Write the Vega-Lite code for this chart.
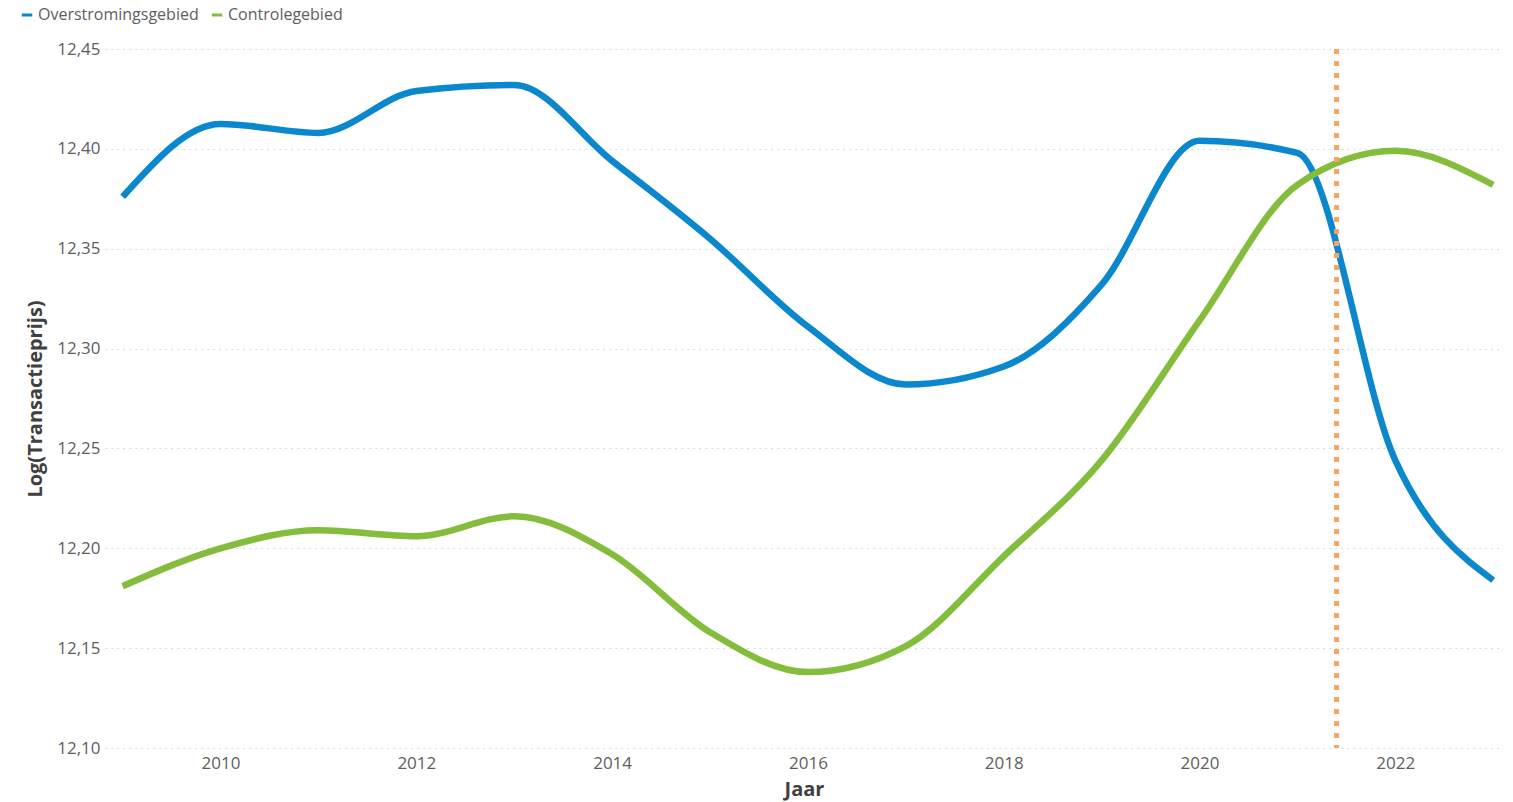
{
  "$schema": "https://vega.github.io/schema/vega-lite/v6.json",
  "autosize": {"type": "none"},
  "width": 1398,
  "height": 699,
  "padding": {"left": 105, "top": 49, "right": 10, "bottom": 54},
  "background": "white",
  "config": {
    "font": "Open Sans",
    "view": {"stroke": null}
  },
  "datasets": {
    "series": [
      {"Jaar": 2009, "Gebied": "Overstromingsgebied", "Waarde": 12.376},
      {"Jaar": 2010, "Gebied": "Overstromingsgebied", "Waarde": 12.4125},
      {"Jaar": 2011, "Gebied": "Overstromingsgebied", "Waarde": 12.408},
      {"Jaar": 2012, "Gebied": "Overstromingsgebied", "Waarde": 12.429},
      {"Jaar": 2013, "Gebied": "Overstromingsgebied", "Waarde": 12.432},
      {"Jaar": 2014, "Gebied": "Overstromingsgebied", "Waarde": 12.394},
      {"Jaar": 2015, "Gebied": "Overstromingsgebied", "Waarde": 12.355},
      {"Jaar": 2016, "Gebied": "Overstromingsgebied", "Waarde": 12.311},
      {"Jaar": 2017, "Gebied": "Overstromingsgebied", "Waarde": 12.282},
      {"Jaar": 2018, "Gebied": "Overstromingsgebied", "Waarde": 12.291},
      {"Jaar": 2019, "Gebied": "Overstromingsgebied", "Waarde": 12.332},
      {"Jaar": 2020, "Gebied": "Overstromingsgebied", "Waarde": 12.404},
      {"Jaar": 2021, "Gebied": "Overstromingsgebied", "Waarde": 12.398},
      {"Jaar": 2022, "Gebied": "Overstromingsgebied", "Waarde": 12.244},
      {"Jaar": 2023, "Gebied": "Overstromingsgebied", "Waarde": 12.184},
      {"Jaar": 2009, "Gebied": "Controlegebied", "Waarde": 12.181},
      {"Jaar": 2010, "Gebied": "Controlegebied", "Waarde": 12.200},
      {"Jaar": 2011, "Gebied": "Controlegebied", "Waarde": 12.209},
      {"Jaar": 2012, "Gebied": "Controlegebied", "Waarde": 12.206},
      {"Jaar": 2013, "Gebied": "Controlegebied", "Waarde": 12.216},
      {"Jaar": 2014, "Gebied": "Controlegebied", "Waarde": 12.197},
      {"Jaar": 2015, "Gebied": "Controlegebied", "Waarde": 12.158},
      {"Jaar": 2016, "Gebied": "Controlegebied", "Waarde": 12.138},
      {"Jaar": 2017, "Gebied": "Controlegebied", "Waarde": 12.151},
      {"Jaar": 2018, "Gebied": "Controlegebied", "Waarde": 12.196},
      {"Jaar": 2019, "Gebied": "Controlegebied", "Waarde": 12.244},
      {"Jaar": 2020, "Gebied": "Controlegebied", "Waarde": 12.314},
      {"Jaar": 2021, "Gebied": "Controlegebied", "Waarde": 12.382},
      {"Jaar": 2022, "Gebied": "Controlegebied", "Waarde": 12.399},
      {"Jaar": 2023, "Gebied": "Controlegebied", "Waarde": 12.382}
    ],
    "marker": [{"Jaar": 2021.4}]
  },
  "layer": [
    {
      "data": {"name": "series"},
      "mark": {"type": "line", "interpolate": "monotone", "strokeWidth": 6.5, "strokeCap": "butt", "strokeJoin": "round"},
      "encoding": {
        "x": {
          "field": "Jaar", "type": "quantitative",
          "scale": {"domain": [2008.82, 2023.1], "nice": false, "zero": false},
          "axis": {
            "title": "Jaar", "values": [2010, 2012, 2014, 2016, 2018, 2020, 2022], "format": "d",
            "grid": false, "domain": false, "ticks": false,
            "labelFontSize": 17, "labelColor": "#605E5C", "labelPadding": 7,
            "titleFontSize": 20, "titleFontWeight": "bold", "titleColor": "#404040", "titlePadding": 8
          }
        },
        "y": {
          "field": "Waarde", "type": "quantitative",
          "scale": {"domain": [12.10, 12.45], "nice": false, "zero": false},
          "axis": {
            "title": "Log(Transactieprijs)",
            "values": [12.10, 12.15, 12.20, 12.25, 12.30, 12.35, 12.40, 12.45],
            "labelExpr": "replace(format(datum.value, '.2f'), '.', ',')",
            "domain": false, "ticks": false,
            "grid": true, "gridColor": "#BCD6EA", "gridDash": [1.5, 4.5], "gridWidth": 1.2,
            "labelFontSize": 17, "labelColor": "#605E5C", "labelPadding": 5,
            "titleFontSize": 20, "titleFontWeight": "bold", "titleColor": "#404040", "titlePadding": 11
          }
        },
        "color": {
          "field": "Gebied", "type": "nominal",
          "scale": {"domain": ["Overstromingsgebied", "Controlegebied"], "range": ["#0B87CD", "#84BC3C"]},
          "legend": {
            "title": null, "orient": "none", "legendX": -86, "legendY": -42, "direction": "horizontal",
            "symbolType": "stroke", "symbolStrokeWidth": 3, "symbolSize": 110,
            "labelFontSize": 16, "labelColor": "#605E5C", "labelOffset": 3, "labelLimit": 400, "columnPadding": 6
          }
        }
      }
    },
    {
      "data": {"name": "marker"},
      "mark": {"type": "rule", "color": "#F7A55E", "strokeWidth": 5, "strokeDash": [5, 7]},
      "encoding": {"x": {"field": "Jaar", "type": "quantitative"}}
    }
  ]
}
